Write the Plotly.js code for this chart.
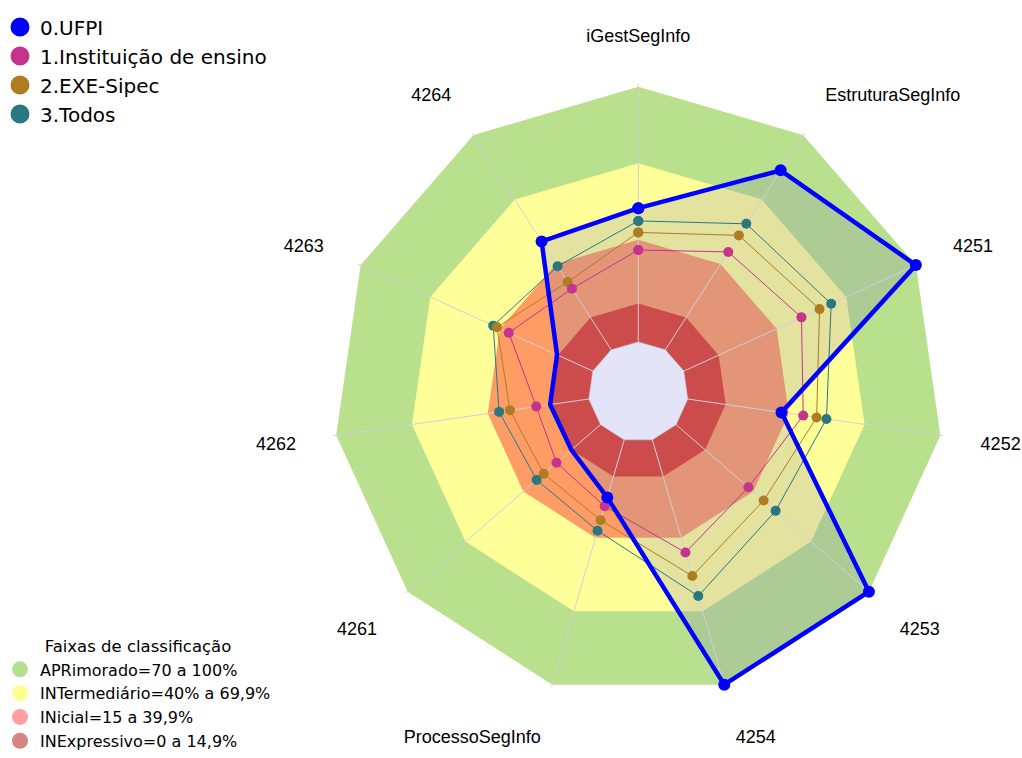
<!DOCTYPE html>
<html><head><meta charset="utf-8">
<script src="https://cdn.plot.ly/plotly-3.0.1.min.js"></script>
<style>html,body{margin:0;padding:0;background:#fff}#chart{width:1022px;height:758px}</style>
</head><body><div id="chart"></div>
<script>
const categories = ['iGestSegInfo','EstruturaSegInfo','4251','4252','4253','4254','ProcessoSegInfo','4261','4262','4263','4264'];
const seriesNames = ['0.UFPI','1.Instituição de ensino','2.EXE-Sipec','3.Todos'];
const ufpi        = [52.4, 83.6, 100, 37.1, 100, 100, 23.5, 15.1, 15.3, 15.4, 50.5];
const instituicao = [36.0, 45.6, 50.7, 45.7, 37.5, 46.0, 27.1, 22.8, 20.8, 36.2, 28.5];
const exeSipec    = [42.9, 53.3, 58.5, 51.0, 45.4, 55.6, 32.8, 29.4, 31.2, 41.3, 31.6];
const todos       = [47.4, 58.7, 63.5, 54.9, 51.6, 63.8, 37.1, 33.1, 35.5, 42.9, 38.9];
const bandNames = ['APRimorado=70 a 100%','INTermediário=40% a 69,9%','INicial=15 a 39,9%','INExpressivo=0 a 14,9%'];
const bandUpper = [100, 70, 40, 15];
const bandLegendTitle = 'Faixas de classificação';

const seriesColors = ['#0000ff','#c5338e','#ae7d22','#2b7781'];
const bandFill = ['#b9e08c','#ffff99','#fe9c66','#cc4c4c'];
const bandLegend = ['rgba(150,210,100,0.7)','rgba(255,255,110,0.75)','rgba(255,120,120,0.7)','rgba(200,80,80,0.7)'];

const close = a => a.concat([a[0]]);
const thetaC = close(categories);
const hole = 0.1625, rmax = 101;
const rmin = -hole * rmax / (1 - hole);

const traces = [];
function band(i) {
  return {type:'scatterpolar', subplot:'polar', r: close(categories.map(() => bandUpper[i])), theta: thetaC,
    mode:'lines', fill:'toself', fillcolor: bandFill[i], line:{width:0, color:'rgba(0,0,0,0)'},
    showlegend:false, hoverinfo:'skip', name: bandNames[i]};
}
traces.push(band(0), band(1), band(2));
traces.push({type:'scatterpolar', subplot:'polar', r: close(ufpi), theta: thetaC, mode:'lines', fill:'toself',
  fillcolor:'rgba(128,128,180,0.22)', line:{width:0, color:'rgba(0,0,0,0)'}, showlegend:false, hoverinfo:'skip'});
traces.push(band(3));
traces.push({type:'scatterpolar', subplot:'polar2', r: close(categories.map(() => 0)), theta: thetaC, mode:'lines',
  fill:'toself', fillcolor:'#e4e4f9', line:{width:0.6, color:'rgba(200,200,215,0.9)'}, showlegend:false, hoverinfo:'skip'});
const others = [[todos,3],[exeSipec,2],[instituicao,1]];
others.forEach(([vals, k]) => traces.push({type:'scatterpolar', subplot:'polar2', r: close(vals), theta: thetaC,
  mode:'lines+markers', line:{width:1, color: seriesColors[k]}, marker:{size:10, color: seriesColors[k]},
  name: seriesNames[k], showlegend:false, cliponaxis:false}));
traces.push({type:'scatterpolar', subplot:'polar2', r: close(ufpi), theta: thetaC, mode:'lines+markers',
  line:{width:4.5, color: seriesColors[0]}, marker:{size:12, color: seriesColors[0]}, name: seriesNames[0],
  showlegend:false, cliponaxis:false});
seriesNames.forEach((n, k) => traces.push({type:'scatterpolar', subplot:'polar2', r:[null], theta:[null], mode:'markers',
  name:n, legend:'legend', marker:{size:16, color: seriesColors[k], line:{width:3, color: seriesColors[k]}}, showlegend:true}));
bandNames.forEach((n, i) => traces.push({type:'scatterpolar', subplot:'polar2', r:[null], theta:[null], mode:'markers',
  name:n, legend:'legend2', marker:{size:16, color: bandLegend[i]}, showlegend:true}));

const angCommon = {type:'category', categoryorder:'array', categoryarray: categories, rotation:90, direction:'clockwise'};
const dom = {x:[0.3234,0.9257], y:[0.0770,0.8890]};
const layout = {
  width:1022, height:758, margin:{l:0,r:0,t:0,b:0}, paper_bgcolor:'#ffffff',
  font:{family:'Liberation Sans, Arial, sans-serif', color:'#000'},
  polar:{domain: dom, gridshape:'linear', bgcolor:'rgba(0,0,0,0)',
    radialaxis:{range:[rmin, rmax], visible:false, showgrid:false},
    angularaxis:Object.assign({}, angCommon, {showline:false, showgrid:false,
      ticks:'outside', ticklen:34, tickcolor:'rgba(0,0,0,0)', tickfont:{size:18, color:'#000'}})},
  polar2:{domain: dom, gridshape:'linear', bgcolor:'rgba(0,0,0,0)',
    radialaxis:{range:[rmin, rmax], visible:false},
    angularaxis:Object.assign({}, angCommon, {showline:false, showgrid:true, gridcolor:'#cfcfd8', gridwidth:1,
      showticklabels:false, ticks:''})},
  legend:{x:0, y:0.9901, xanchor:'left', yanchor:'top', font:{size:20, family:'DejaVu Sans, sans-serif'},
    bgcolor:'rgba(0,0,0,0)', itemsizing:'trace'},
  legend2:{x:0, y:0, xanchor:'left', yanchor:'bottom', font:{size:16, family:'DejaVu Sans, sans-serif'},
    bgcolor:'rgba(0,0,0,0)', itemsizing:'trace',
    title:{text: bandLegendTitle, side:'top center', font:{size:16.5, family:'DejaVu Sans, sans-serif'}}},
  showlegend:true
};
Plotly.newPlot('chart', traces, layout, {displayModeBar:false, staticPlot:true});
</script></body></html>
